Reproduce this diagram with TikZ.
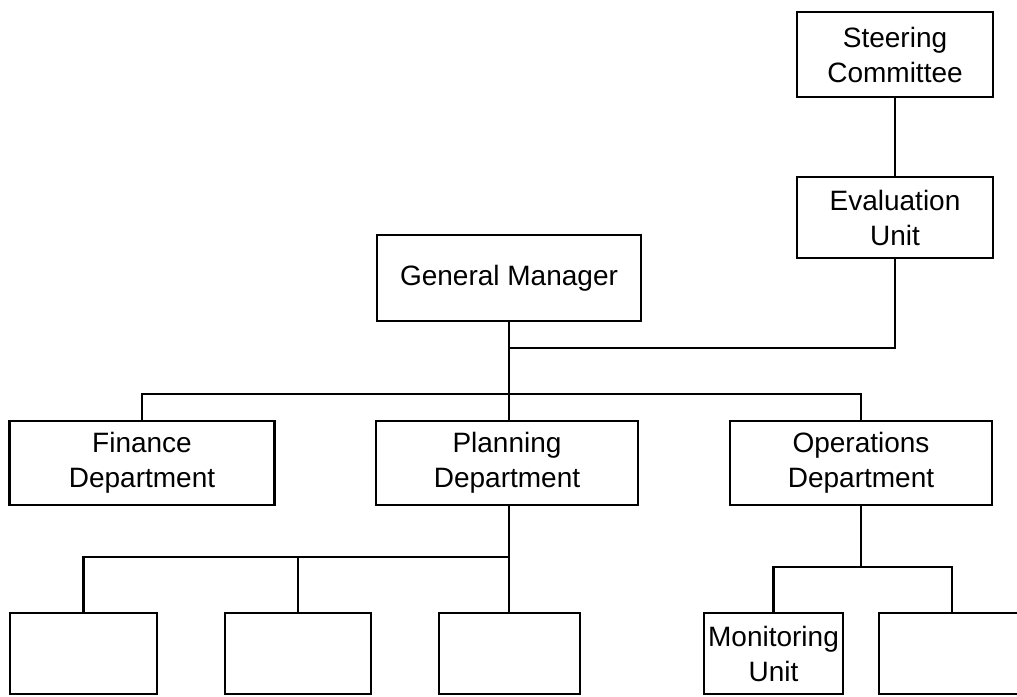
\documentclass[tikz,border=0pt]{standalone}
\usepackage{fontspec}
\setmainfont{Liberation Sans}
\usepackage{tikz}

\begin{document}
\begin{tikzpicture}[x=0.5pt, y=-0.5pt, line width=1.4pt]
	\tikzset{
		unit/.style={draw=black, line width=1.4pt, align=center, inner sep=1pt, font=\fontsize{14}{17.5}\selectfont},
		boxsize/.style 2 args={minimum width=#1*0.5pt, minimum height=#2*0.5pt}
	}
	\useasboundingbox (0,0) rectangle (1017,696);
	\clip (0,0) rectangle (1017,696);
	\node[unit, boxsize={196}{85}]    (steer) at (895,54.5)   {Steering\\Committee};
	\node[unit, boxsize={196}{81}]    (eval)  at (895,217.5)  {Evaluation\\Unit};
	\node[unit, boxsize={264}{86}]    (gm)    at (509,278)    {General Manager};
	\node[unit, boxsize={265}{84}]    (fin)   at (142,463)    {Finance\\Department};
	\node[unit, boxsize={262}{84}]    (plan)  at (507,463)    {Planning\\Department};
	\node[unit, boxsize={262}{84}]    (ops)   at (861,463)    {Operations\\Department};
	\node[unit, boxsize={147}{81}]    (sub1)  at (83.5,653.5) {};
	\node[unit, boxsize={146}{81}]    (sub2)  at (298,653.5)  {};
	\node[unit, boxsize={141}{81}]    (sub3)  at (509.5,653.5) {};
	\node[unit, boxsize={139}{81}]    (mon)   at (773.5,653.5) {Monitoring\\Unit};
	\node[unit, boxsize={146}{81}]    (sub5)  at (952,653.5)  {};
	\coordinate (evaljoin) at (509,348);
	\coordinate (deptbus)  at (509,394);
	\coordinate (planbus)  at (509,557);
	\coordinate (opsbus)   at (861,567);
	\draw
	(steer) -- (eval)
	(eval) |- (evaljoin)
	(gm) -- (gm |- plan.north)
	(fin) |- (deptbus) -| (ops)
	(plan.south -| planbus) -- (sub3.north -| planbus)
	(sub1) |- (planbus)
	(sub2) -- (sub2 |- planbus)
	(ops) -- (opsbus)
	(mon) |- (opsbus) -| (sub5);
\end{tikzpicture}
\end{document}
